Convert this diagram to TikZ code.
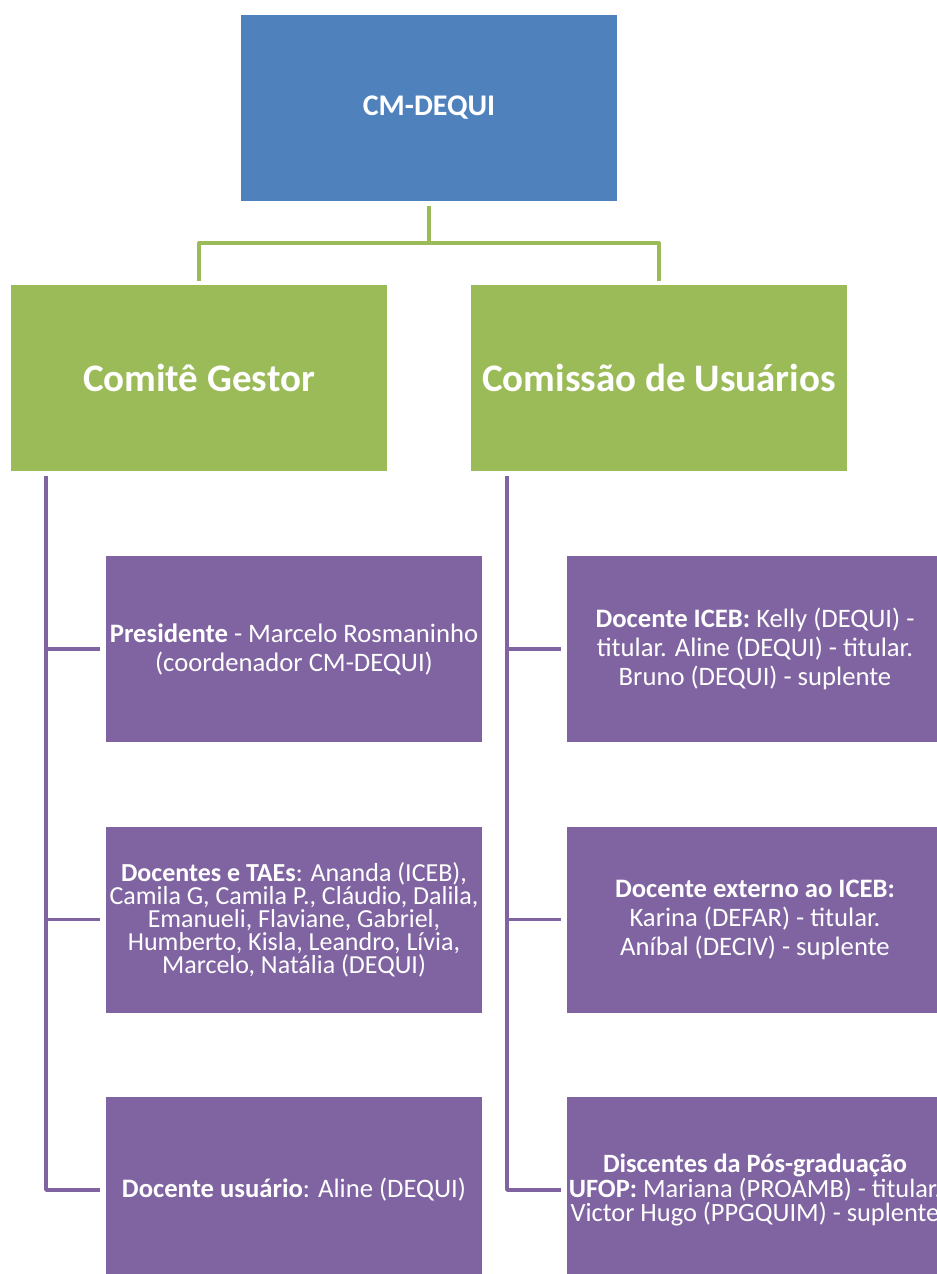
\documentclass[tikz,border=0pt]{standalone}
\usepackage{fontspec}
\setmainfont{Carlito}
\definecolor{cblue}{HTML}{4F81BD}
\definecolor{cgreen}{HTML}{9BBB59}
\definecolor{cpurple}{HTML}{8064A2}
\begin{document}
\begin{tikzpicture}[x=0.75pt,y=-0.75pt,
  box/.style={inner sep=0pt, minimum width=282pt, minimum height=139.5pt, text=white, align=center},
  topbox/.style={box, fill=cblue, font=\fontsize{22.5}{27}\selectfont\bfseries},
  midbox/.style={box, fill=cgreen, font=\fontsize{29.25}{35}\selectfont\bfseries},
  leafbox/.style={box, fill=cpurple, font=\fontsize{20}{21.75}\selectfont},
  tightbox/.style={leafbox, font=\fontsize{19.5}{17.25}\selectfont},
  densebox/.style={leafbox, font=\fontsize{19.8}{17}\selectfont},
  gline/.style={draw=cgreen, line width=2.4pt, line join=round},
  pline/.style={draw=cpurple, line width=2.6pt, line join=round}]
\useasboundingbox (0,0) rectangle (937,1274);
\clip (0,0) rectangle (937,1274);
\fill[white] (0,0) rectangle (937,1274);

\node[topbox] (cm) at (429,108) {CM-DEQUI};
\node[midbox] (cg) at (199,378) {Comitê Gestor};
\node[midbox] (cu) at (659,378) {Comissão de Usuários};

\node[leafbox] (p1) at (294,649) {\textbf{Presidente} - Marcelo Rosmaninho\\(coordenador CM-DEQUI)};
\node[tightbox] (p2) at (294,919.5) {\textbf{Docentes e TAEs}: Ananda (ICEB),\\Camila G, Camila P., Cláudio, Dalila,\\Emanueli, Flaviane, Gabriel,\\Humberto, Kisla, Leandro, Lívia,\\Marcelo, Natália (DEQUI)};
\node[leafbox] (p3) at (294,1190) {\textbf{Docente usuário}: Aline (DEQUI)};

\node[leafbox] (u1) at (755,649) {\textbf{Docente ICEB:} Kelly (DEQUI) -\\titular. Aline (DEQUI) - titular.\\Bruno (DEQUI) - suplente};
\node[leafbox] (u2) at (755,919.5) {\textbf{Docente externo ao ICEB:}\\Karina (DEFAR) - titular.\\Aníbal (DECIV) - suplente};
\node[densebox] (u3) at (755,1190) {\textbf{Discentes da Pós-graduação}\\\textbf{UFOP:} Mariana (PROAMB) - titular.\\Victor Hugo (PPGQUIM) - suplente};

% green connectors
\coordinate (gbus) at (429,243);
\draw[gline] ([yshift=-3.5pt]cm.south) -- (gbus);
\draw[gline] (gbus) -| ([yshift=3pt]cg.north);
\draw[gline] (gbus) -| ([yshift=3pt]cu.north);

% purple connectors, left
\coordinate (lt) at (46,476);
\draw[pline] (lt) |- ([xshift=-4pt]p3.west);
\draw[pline] (lt |- p1.west) -- ([xshift=-4pt]p1.west);
\draw[pline] (lt |- p2.west) -- ([xshift=-4pt]p2.west);

% purple connectors, right
\coordinate (rt) at (507,476);
\draw[pline] (rt) |- ([xshift=-4pt]u3.west);
\draw[pline] (rt |- u1.west) -- ([xshift=-4pt]u1.west);
\draw[pline] (rt |- u2.west) -- ([xshift=-4pt]u2.west);
\end{tikzpicture}
\end{document}
